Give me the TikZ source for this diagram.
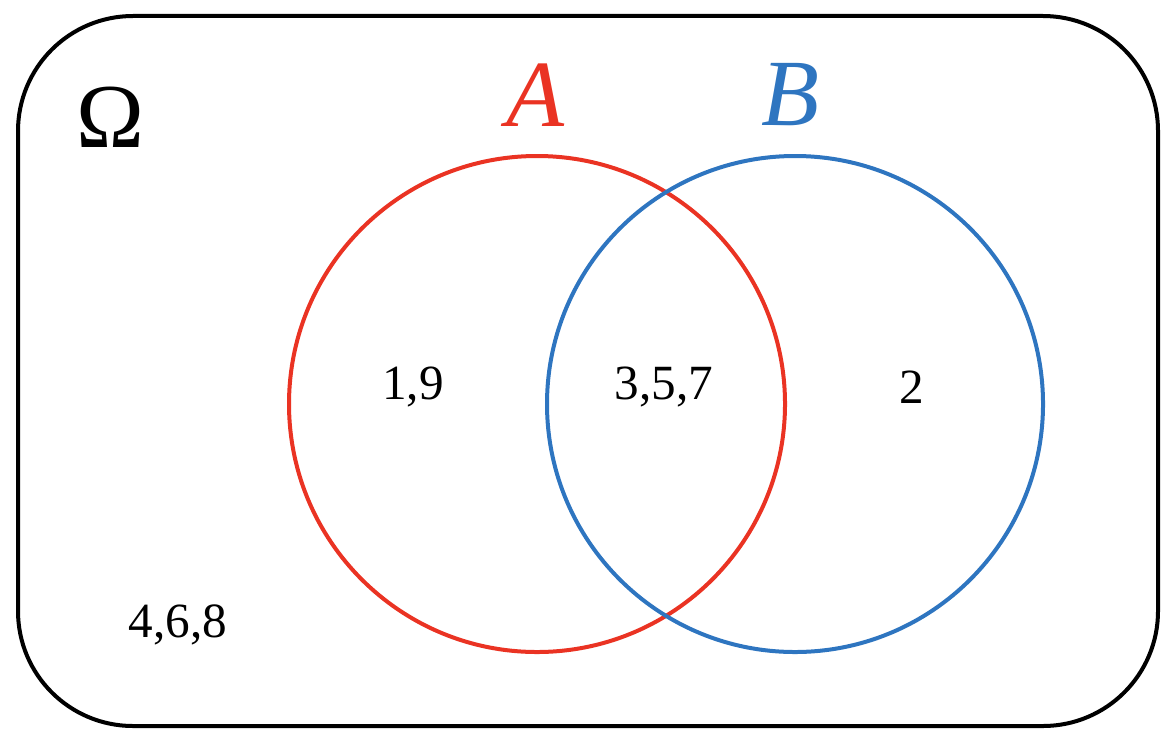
\documentclass[tikz,border=0pt]{standalone}
\usepackage{fontspec}
\setmainfont{Liberation Serif}
\usepackage{xcolor}
\usepackage{tikz}
\definecolor{rouge}{RGB}{234,51,35}
\definecolor{bleu}{RGB}{46,117,192}
\tikzset{
  ens/.style={line width=0.04cm},
  nombre/.style={font=\fontsize{14}{16}\selectfont},
  lettre/.style={font=\fontsize{27}{30}\selectfont\itshape},
}

\begin{document}
\begin{tikzpicture}
\useasboundingbox (0,0) rectangle (11.76,7.44);
\node[draw, ens, rounded corners=1.15cm, minimum width=11.4cm, minimum height=7.1cm] (U) at (5.88,3.73) {};
  \node[ens, draw=rouge, circle, minimum size=4.96cm] (A) at (5.37,3.40) {};
  \node[ens, draw=bleu, circle, minimum size=4.96cm] (B) at (7.95,3.40) {};

  \node[font=\fontsize{26}{30}\selectfont] (O) at (1.10,6.27) {Ω};
  \node[lettre, text=rouge] (LA) at (5.35,6.49) {A};
  \node[lettre, text=bleu]  (LB) at (7.90,6.49) {B};

  \node[nombre] (AB) at (4.13,3.57) {1,9};
  \node[nombre] (I)  at (6.64,3.57) {3,5,7};
  \node[nombre] (BA) at (9.12,3.57) {2};
  \node[nombre] (C)  at (1.78,1.19) {4,6,8};
\end{tikzpicture}
\end{document}
